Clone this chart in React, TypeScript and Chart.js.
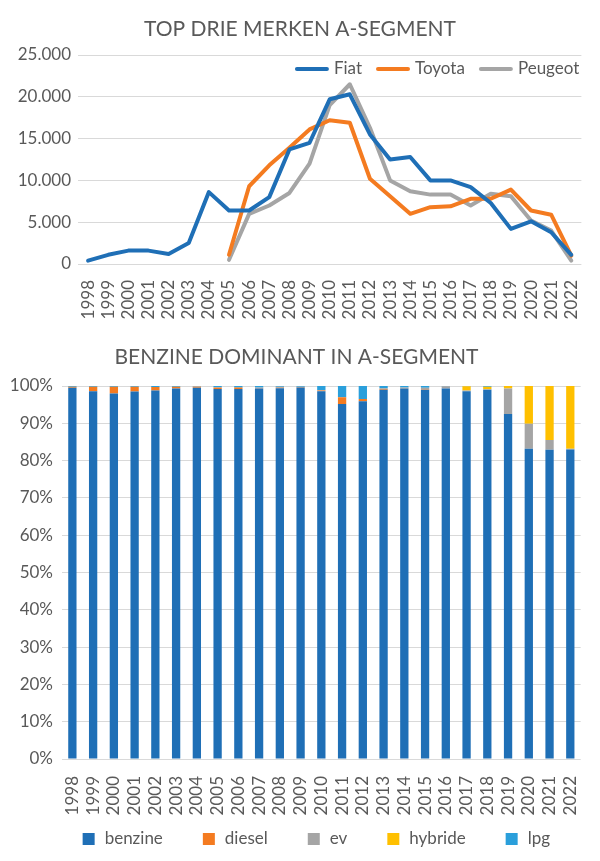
import { useEffect, useRef } from 'react';
import { Chart, registerables } from 'chart.js';

Chart.register(...registerables);

const years = [
  '1998', '1999', '2000', '2001', '2002', '2003', '2004', '2005', '2006', '2007', '2008', '2009', '2010',
  '2011', '2012', '2013', '2014', '2015', '2016', '2017', '2018', '2019', '2020', '2021', '2022',
];

// registraties per merk (A-segment)
const fiat = [400, 1100, 1600, 1600, 1200, 2500, 8600, 6400, 6400, 8000, 13700, 14500, 19700, 20300, 15500, 12500, 12800, 10000, 10000, 9200, 7300, 4200, 5100, 3800, 1100];
const toyota = [null, null, null, null, null, null, null, 1100, 9300, 11800, 13900, 16100, 17200, 16900, 10200, 8100, 6000, 6800, 6900, 7800, 7800, 8900, 6400, 5900, 1000];
const peugeot = [null, null, null, null, null, null, null, 500, 6000, 7000, 8500, 12000, 19000, 21500, 16300, 10000, 8700, 8300, 8300, 7000, 8400, 8100, 5200, 4000, 400];

// aandeel brandstof in % per jaar
const benzine = [99.5, 98.6, 98.0, 98.5, 98.8, 99.3, 99.5, 99.2, 99.2, 99.3, 99.4, 99.6, 98.6, 95.2, 95.9, 99.0, 99.3, 99.0, 99.3, 98.6, 99.0, 92.5, 83.2, 82.9, 83.0];
const diesel = [0.3, 1.2, 1.8, 1.3, 0.9, 0.5, 0.3, 0.3, 0.4, 0.1, 0.1, 0.1, 0.2, 1.8, 0.6, 0.2, 0.1, 0.1, 0, 0, 0, 0, 0, 0, 0];
const ev = [0, 0, 0, 0, 0, 0, 0.1, 0.2, 0, 0.2, 0.3, 0.1, 0.1, 0, 0, 0.2, 0.2, 0.4, 0.6, 0.2, 0.1, 6.8, 6.7, 2.6, 0.2];
const hybride = [0, 0, 0, 0, 0, 0, 0, 0, 0, 0, 0, 0, 0, 0, 0, 0, 0, 0, 0, 1.1, 0.7, 0.7, 10.1, 14.5, 16.8];
const lpg = [0.2, 0.2, 0.2, 0.2, 0.3, 0.2, 0.1, 0.3, 0.4, 0.4, 0.2, 0.2, 1.1, 3.0, 3.5, 0.6, 0.4, 0.5, 0.1, 0.1, 0.2, 0, 0, 0, 0];

const FONT = "Lato, 'Noto Sans', sans-serif";
const TEXT = '#595959';
const GRID = '#D9D9D9';
const BLUE = '#1F6FB6';
const ORANGE = '#F47B20';
const GREY = '#A5A5A5';
const YELLOW = '#FFC000';
const LIGHTBLUE = '#2A9FDB';

const fmt = (v: number) => String(v).replace(/\B(?=(\d{3})+(?!\d))/g, '.');

// legend inside the plot area, top right
const lineLegend = {
  id: 'lineLegend',
  afterDatasetsDraw(chart: any) {
    const { ctx, chartArea } = chart;
    const y = chartArea.top + 14;
    let x = chartArea.right - 2;
    ctx.save();
    ctx.font = `17px ${FONT}`;
    ctx.textBaseline = 'middle';
    ctx.textAlign = 'left';
    const sets = chart.data.datasets;
    for (let i = sets.length - 1; i >= 0; i--) {
      const ds = sets[i];
      const w = ctx.measureText(ds.label).width;
      x -= w;
      ctx.fillStyle = TEXT;
      ctx.fillText(ds.label, x, y);
      x -= 7;
      ctx.beginPath();
      ctx.strokeStyle = ds.borderColor;
      ctx.lineWidth = 4;
      ctx.lineCap = 'round';
      ctx.moveTo(x - 30, y);
      ctx.lineTo(x, y);
      ctx.stroke();
      x -= 30 + 16;
    }
    ctx.restore();
  },
};

// legend under the bars, wide spacing between the items
const boxLegend = {
  id: 'boxLegend',
  afterDraw(chart: any) {
    const { ctx, chartArea } = chart;
    ctx.save();
    ctx.font = `17px ${FONT}`;
    ctx.textBaseline = 'middle';
    ctx.textAlign = 'left';
    const sets = chart.data.datasets;
    const widths = sets.map((ds: any) => 12 + 10 + ctx.measureText(ds.label).width);
    const gap = 40;
    const total = widths.reduce((a: number, b: number) => a + b, 0) + gap * (sets.length - 1);
    let x = (chartArea.left + chartArea.right) / 2 - 5 - total / 2;
    const y = chart.height - 22;
    sets.forEach((ds: any, i: number) => {
      ctx.fillStyle = ds.backgroundColor;
      ctx.fillRect(x, y - 6, 12, 12);
      ctx.fillStyle = TEXT;
      ctx.fillText(ds.label, x + 22, y);
      x += widths[i] + gap;
    });
    ctx.restore();
  },
};

function LineChart() {
  const ref = useRef<HTMLCanvasElement>(null);
  useEffect(() => {
    if (!ref.current) return;
    const line = (label: string, data: any[], color: string) => ({
      label,
      data,
      borderColor: color,
      backgroundColor: color,
      borderWidth: 4,
      pointRadius: 0,
      tension: 0,
      borderCapStyle: 'round',
      borderJoinStyle: 'round',
    });
    const chart = new Chart(ref.current, {
      type: 'line',
      data: {
        labels: years,
        datasets: [line('Fiat', fiat, BLUE), line('Toyota', toyota, ORANGE), line('Peugeot', peugeot, GREY)] as any,
      },
      options: {
        animation: false,
        responsive: true,
        maintainAspectRatio: false,
        layout: { padding: { left: 15, right: 15, top: 0, bottom: 0 } },
        plugins: {
          legend: { display: false },
          tooltip: { enabled: false },
          title: {
            display: true,
            text: 'TOP DRIE MERKEN A-SEGMENT',
            color: TEXT,
            font: { family: FONT, size: 21, weight: 'normal' },
            padding: { top: 17, bottom: 12.8 },
          },
        },
        scales: {
          x: {
            offset: true,
            grid: { display: false },
            border: { display: false },
            ticks: { color: TEXT, font: { family: FONT, size: 17 }, minRotation: 90, maxRotation: 90, padding: 8, autoSkip: false },
            afterFit: (s: any) => { s.height = 71; },
          },
          y: {
            min: 0,
            max: 25000,
            grid: { color: GRID, drawTicks: false },
            border: { display: false },
            ticks: { stepSize: 5000, color: TEXT, font: { family: FONT, size: 17 }, padding: 7, callback: (v: any) => fmt(Number(v)) },
            afterFit: (s: any) => { s.width = 63; },
          },
        },
      },
      plugins: [lineLegend],
    });
    return () => chart.destroy();
  }, []);
  return <canvas ref={ref}></canvas>;
}

function BarChart() {
  const ref = useRef<HTMLCanvasElement>(null);
  useEffect(() => {
    if (!ref.current) return;
    const bar = (label: string, data: number[], color: string) => ({
      label,
      data,
      backgroundColor: color,
      borderWidth: 0,
      barPercentage: 1,
      categoryPercentage: 0.4,
    });
    const chart = new Chart(ref.current, {
      type: 'bar',
      data: {
        labels: years,
        datasets: [
          bar('benzine', benzine, BLUE),
          bar('diesel', diesel, ORANGE),
          bar('ev', ev, GREY),
          bar('hybride', hybride, YELLOW),
          bar('lpg', lpg, LIGHTBLUE),
        ],
      },
      options: {
        animation: false,
        responsive: true,
        maintainAspectRatio: false,
        layout: { padding: { left: 8, right: 15, top: 0, bottom: 44 } },
        plugins: {
          tooltip: { enabled: false },
          legend: { display: false },
          title: {
            display: true,
            text: 'BENZINE DOMINANT IN A-SEGMENT',
            color: TEXT,
            font: { family: FONT, size: 21, weight: 'normal' },
            padding: { top: 9.4, bottom: 16.4 },
          },
        },
        scales: {
          x: {
            stacked: true,
            grid: { display: false },
            border: { display: false },
            ticks: { color: TEXT, font: { family: FONT, size: 17 }, minRotation: 90, maxRotation: 90, padding: 9, autoSkip: false },
            afterFit: (s: any) => { s.height = 58; },
          },
          y: {
            stacked: true,
            min: 0,
            max: 100,
            grid: { color: GRID, drawTicks: false },
            border: { display: false },
            ticks: { stepSize: 10, color: TEXT, font: { family: FONT, size: 17 }, padding: 9, callback: (v: any) => v + '%' },
            afterFit: (s: any) => { s.width = 54; },
          },
        },
      },
      plugins: [boxLegend],
    });
    return () => chart.destroy();
  }, []);
  return <canvas ref={ref}></canvas>;
}

export default function App() {
  useEffect(() => {
    document.body.style.margin = '0';
  }, []);
  return (
    <div style={{ width: 600, background: '#fff' }}>
      <div style={{ position: 'relative', width: 600, height: 335 }}>
        <LineChart />
      </div>
      <div style={{ position: 'relative', width: 600, height: 526 }}>
        <BarChart />
      </div>
    </div>
  );
}
